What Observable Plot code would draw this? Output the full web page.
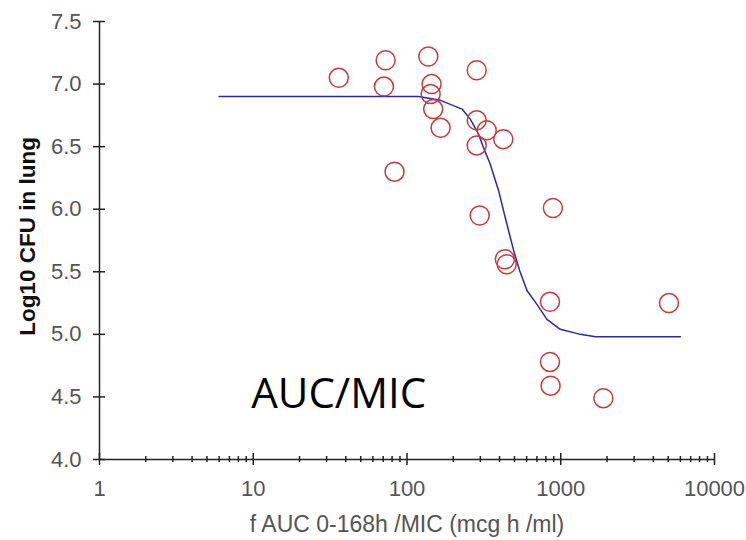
<!DOCTYPE html>
<html>
<head>
<meta charset="utf-8">
<script src="https://cdn.jsdelivr.net/npm/d3@7"></script>
<script src="https://cdn.jsdelivr.net/npm/@observablehq/plot@0.6"></script>
<style>
  html, body { margin: 0; padding: 0; background: #fff; }
  #chart { width: 746px; height: 540px; }
</style>
</head>
<body>
<div id="chart"></div>
<script>
// Observed lung burden versus exposure (free AUC over 0-168 h divided by MIC)
const auc = [36, 72.6, 70.8, 83, 137.6, 144.5, 142.5, 148, 165.4, 284, 284, 330, 284, 423,
             297, 889, 433, 445, 851, 5058, 851, 859, 1893];
const cfu = [7.05, 7.19, 6.98, 6.30, 7.22, 7.00, 6.92, 6.80, 6.65, 7.11, 6.71, 6.63, 6.51, 6.56,
             5.95, 6.01, 5.60, 5.56, 5.26, 5.25, 4.78, 4.59, 4.49];

// Fitted sigmoid exposure-response curve, sampled vertices
const curveAuc = [6, 119, 165, 228, 258, 292, 315, 348, 394, 436, 494, 540, 603, 700, 813, 993, 1342, 1680, 6000];
const curveCfu = [6.90, 6.90, 6.87, 6.80, 6.72, 6.60, 6.49, 6.36, 6.15, 5.93, 5.67, 5.51, 5.35, 5.24, 5.12, 5.04, 5.00, 4.98, 4.98];

// Axis ticks
const xMajorTicks = [1, 10, 100, 1000, 10000];
const xMinorTicks = [1, 10, 100, 1000].flatMap(d => [2, 3, 4, 5, 6, 7, 8, 9].map(k => k * d));
const yTicks = [4.0, 4.5, 5.0, 5.5, 6.0, 6.5, 7.0, 7.5];

// Labels
const xTitle = "f AUC 0-168h /MIC (mcg h /ml)";
const yTitle = "Log10 CFU in lung";
const note = [{label: "AUC/MIC", x: 9.7, y: 4.52}];

const points = auc.map((a, i) => ({auc: a, cfu: cfu[i]}));
const curve = curveAuc.map((a, i) => ({auc: a, cfu: curveCfu[i]}));

const axisColor = "#222";
const labelColor = "#555";

const chart = Plot.plot({
  width: 746,
  height: 540,
  marginLeft: 99,
  marginRight: 32,
  marginTop: 21,
  marginBottom: 81,
  style: {fontFamily: "'Liberation Sans', Arial, sans-serif", fontSize: "22px", background: "#fff"},
  x: {type: "log", domain: [1, 10000]},
  y: {domain: [4, 7.5]},
  marks: [
    // axis lines
    Plot.ruleX([1], {stroke: axisColor, strokeWidth: 1.5}),
    Plot.ruleY([4], {stroke: axisColor, strokeWidth: 1.5}),
    // y ticks crossing the axis
    Plot.axisY({ticks: yTicks, tickSize: 12, dx: 6, tickFormat: () => "", label: null, stroke: axisColor, strokeWidth: 1.5}),
    Plot.axisY({ticks: yTicks, tickSize: 0, tickPadding: 18, tickFormat: d3.format(".1f"), label: null, color: labelColor, fontSize: 22}),
    // x ticks: long at decades, short in between
    Plot.axisX({ticks: xMajorTicks, tickSize: 12, dy: -6, tickFormat: () => "", label: null, stroke: axisColor, strokeWidth: 1.5}),
    Plot.axisX({ticks: xMinorTicks, tickSize: 6, dy: -3, tickFormat: () => "", label: null, stroke: axisColor, strokeWidth: 1.5}),
    Plot.axisX({ticks: xMajorTicks, tickSize: 0, tickPadding: 21, tickFormat: d3.format("d"), label: null, color: labelColor, fontSize: 22}),
    // axis titles
    Plot.text([xTitle], {frameAnchor: "bottom", textAnchor: "middle", lineAnchor: "middle", dy: 65, fontSize: 23, fill: labelColor}),
    Plot.text([yTitle], {frameAnchor: "left", textAnchor: "middle", lineAnchor: "middle", rotate: -90, dx: -72, dy: -4, fontSize: 22.5, fontWeight: "bold", fill: "#111"}),
    // fitted curve and observations
    Plot.line(curve, {x: "auc", y: "cfu", stroke: "#2a2aa8", strokeWidth: 1.5}),
    Plot.dot(points, {x: "auc", y: "cfu", r: 9.5, stroke: "#c43c3c", strokeWidth: 1.5, fill: "none"}),
    // annotation
    Plot.text(note, {x: "x", y: "y", text: "label", textAnchor: "start", fontFamily: "'Open Sans', sans-serif", fontSize: 42, fill: "#000"})
  ]
});

document.getElementById("chart").appendChild(chart);
</script>
</body>
</html>
